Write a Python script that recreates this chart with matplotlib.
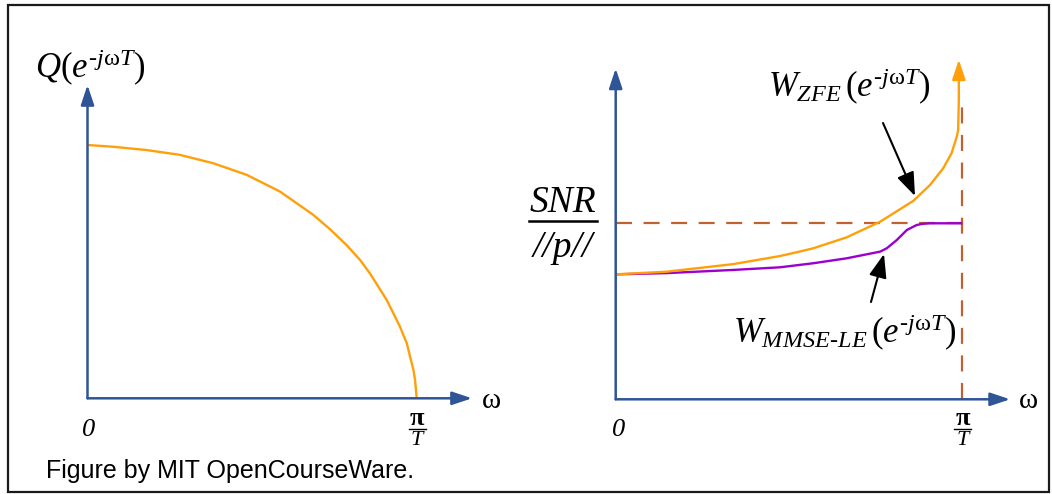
import matplotlib.pyplot as plt
from matplotlib.patches import Rectangle

plt.rcParams["mathtext.fontset"] = "custom"
plt.rcParams["mathtext.rm"] = "Liberation Serif"
plt.rcParams["mathtext.it"] = "Liberation Serif:italic"
plt.rcParams["mathtext.bf"] = "Liberation Serif:bold"

# channel response |Q| versus normalized frequency (omega in units of pi/T)
q_omega = [0.0, 0.078, 0.18, 0.281, 0.382, 0.484, 0.585, 0.686, 0.737, 0.787, 0.828, 0.858,
           0.909, 0.929, 0.949, 0.970, 0.980, 0.990, 0.995, 1.0]
q_mag = [1.0, 0.993, 0.980, 0.961, 0.928, 0.882, 0.816, 0.724, 0.667, 0.605, 0.546, 0.493,
         0.388, 0.336, 0.283, 0.217, 0.164, 0.112, 0.072, 0.0]

# equalizer responses, in units of SNR/||p||
zfe_omega = [0.0, 0.147, 0.339, 0.474, 0.532, 0.570, 0.666, 0.763, 0.859, 0.907, 0.945,
             0.969, 0.984, 0.988, 0.990]
zfe_mag = [0.710, 0.725, 0.768, 0.814, 0.840, 0.858, 0.920, 1.009, 1.128, 1.218, 1.313,
           1.398, 1.492, 1.530, 1.70]
zfe_tip = 1.93

mmse_omega = [0.0, 0.147, 0.339, 0.474, 0.570, 0.666, 0.763, 0.782, 0.811, 0.840, 0.868,
              0.885, 0.907, 1.0]
mmse_mag = [0.710, 0.717, 0.735, 0.750, 0.773, 0.801, 0.839, 0.858, 0.905, 0.962, 0.990,
            0.997, 1.0, 1.0]

snr_level = 1.0
nyquist = 1.0

BLUE = "#2F5597"
ORANGE = "#FFA00A"
PURPLE = "#9B00CC"
BROWN = "#C0622F"
SERIF = "Liberation Serif"

W, H = 1052, 494
fig = plt.figure(figsize=(W / 100, H / 100), dpi=100)

# overlay in pixel units for the frame and labels
bg = fig.add_axes([0, 0, 1, 1])
bg.set_xlim(0, W)
bg.set_ylim(H, 0)
bg.axis("off")


def px_axes(x0, x1, y0, y1, ymax):
    # axes whose data x runs 0..1 between pixel columns x0..x1,
    # data y runs 0..ymax between pixel rows y0 (bottom)..y1 (top)
    ax = fig.add_axes([x0 / W, (H - y0) / H, (x1 - x0) / W, (y0 - y1) / H])
    ax.set_xlim(0, 1)
    ax.set_ylim(0, ymax)
    ax.axis("off")
    ax.patch.set_visible(False)
    return ax


def axis_arrow(ax, start, end, color=BLUE, lw=1.8):
    ax.annotate("", xy=end, xytext=start,
                arrowprops=dict(arrowstyle="-|>,head_length=0.6,head_width=0.2",
                                color=color, lw=lw, shrinkA=0, shrinkB=0,
                                mutation_scale=20),
                annotation_clip=False)


curve = dict(lw=1.7, clip_on=False, solid_joinstyle="round", solid_capstyle="butt")

# left panel
axl = px_axes(87.5, 416.7, 398.3, 145, 1.0)
axis_arrow(axl, (0, 0), (0, 1.237))
axis_arrow(axl, (0, 0), (1.168, 0))
axl.plot(q_omega, q_mag, color=ORANGE, **curve)

# right panel
axr = px_axes(615.7, 962.3, 399.3, 223.3, 1.0)
axis_arrow(axr, (0, 0), (0, 1.88))
axis_arrow(axr, (0, 0), (1.138, 0))
dash = dict(color=BROWN, lw=1.6, dashes=(7.2, 5.2), clip_on=False)
axr.plot([0, nyquist], [snr_level, snr_level], **dash)
axr.plot([nyquist, nyquist], [0, 1.70], **dash)
axr.plot(mmse_omega, mmse_mag, color=PURPLE, **curve)
axr.plot(zfe_omega, zfe_mag, color=ORANGE, **curve)
axis_arrow(axr, (zfe_omega[-1], zfe_mag[-1]), (zfe_omega[-1], zfe_tip), color=ORANGE, lw=1.7)

# frame
bg.add_patch(Rectangle((8, 5), 1041, 487, fill=False, lw=1.6, edgecolor="#1a1a1a"))

# labels
bg.text(35, 78, r"$Q(e^{‐j\mathrm{ω}T})$", fontsize=25, ha="left", va="baseline")
bg.text(768, 97, r"$W_{ZFE}\,(e^{‐j\mathrm{ω}T})$", fontsize=25, ha="left", va="baseline")
bg.text(733, 343, r"$W_{MMSE‐LE}\,(e^{‐j\mathrm{ω}T})$", fontsize=25, ha="left", va="baseline")

bg.text(563, 212, "SNR", fontsize=27, family=SERIF, style="italic", ha="center", va="baseline")
bg.plot([529, 597], [221, 221], color="black", lw=1.8)
bg.text(563, 257, "//p//", fontsize=27, family=SERIF, style="italic", ha="center", va="baseline")

for x0, xpi, xw in [(88.5, 417, 491), (619, 962.5, 1028)]:
    bg.text(x0, 430, "0", fontsize=19, family=SERIF, style="italic", ha="center", va="center")
    bg.text(xpi, 425, "π", fontsize=19, family=SERIF, weight="bold", ha="center", va="baseline")
    bg.plot([xpi - 8.5, xpi + 8.5], [428.5, 428.5], color="black", lw=1.0)
    bg.text(xpi, 445, "T", fontsize=16, family=SERIF, style="italic", ha="center", va="baseline")
    bg.text(xw, 401, "ω", fontsize=21, family=SERIF, ha="center", va="center")

# pointers
ptr = dict(arrowstyle="-|>,head_length=0.8,head_width=0.3", color="black",
           lw=1.5, shrinkA=0, shrinkB=0, mutation_scale=18)
bg.annotate("", xy=(915, 196), xytext=(883, 123), arrowprops=ptr)
bg.annotate("", xy=(884, 254), xytext=(871, 302), arrowprops=ptr)

bg.text(46, 478, "Figure by MIT OpenCourseWare.", fontsize=18, family="Liberation Sans",
        ha="left", va="baseline")

fig.savefig("out.png", dpi=100)
